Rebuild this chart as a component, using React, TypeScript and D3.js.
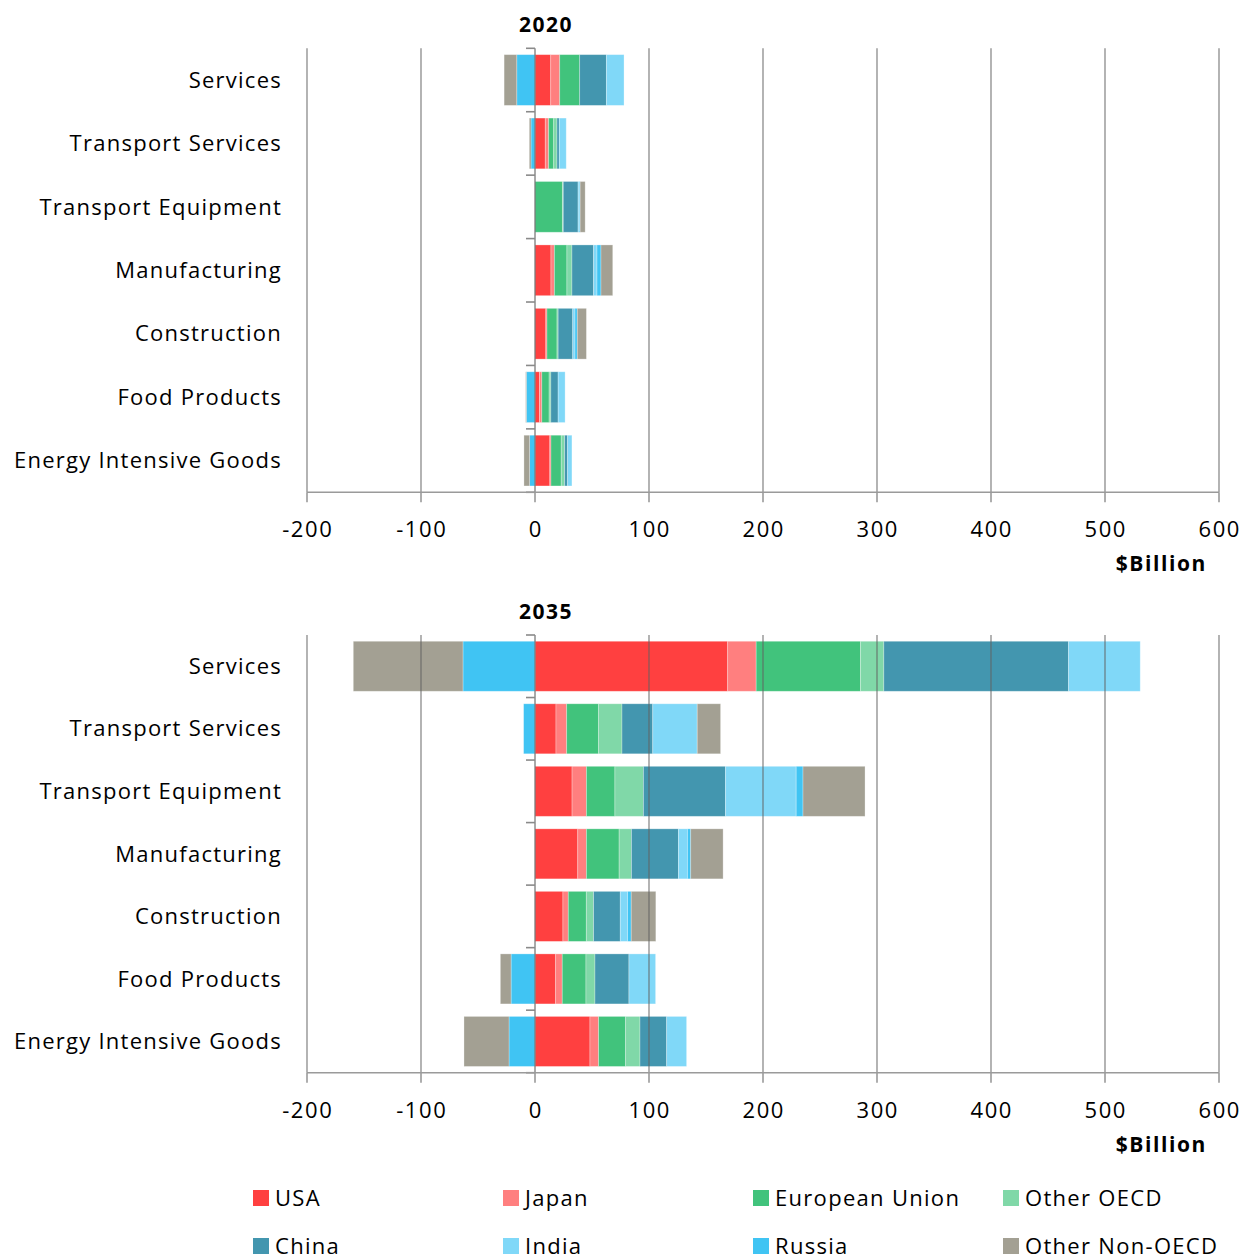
import React from 'react';
import * as d3 from 'd3';

const categories = [
  'Services',
  'Transport Services',
  'Transport Equipment',
  'Manufacturing',
  'Construction',
  'Food Products',
  'Energy Intensive Goods',
];

const seriesNames = ['USA', 'Japan', 'European Union', 'Other OECD', 'China', 'India', 'Russia', 'Other Non-OECD'];
const seriesColors = ['#FF4040', '#FF7F7F', '#41C37C', '#80D8A8', '#4396AF', '#80D8F8', '#40C4F3', '#A3A093'];

// 2020 values ($Billion), category order as above
const usa2020 = [13.8, 9, 0, 14, 9.5, 4, 13];
const japan2020 = [7.9, 3, 0, 3, 1, 2, 1];
const eu2020 = [17.5, 4.4, 24, 11, 8.8, 6.4, 9];
const otherOecd2020 = [0, 2.9, 0.8, 4.4, 1, 1.5, 3];
const china2020 = [23.4, 2, 13, 19, 12.8, 6.4, 2.6];
const india2020 = [15.5, 6.1, 1, 3, 2, 6.1, 3.8];
const russia2020 = [-16, -3.5, 0.8, 3.5, 2, -7.6, -4.7];
const otherNonOecd2020 = [-11.1, -1.5, 4.4, 10.3, 8, -0.6, -5];

// 2035 values ($Billion)
const usa2035 = [169, 18.4, 32.5, 37.5, 24.5, 18.1, 48.2];
const japan2035 = [25, 9.4, 12.6, 7.6, 4.7, 5.8, 7.6];
const eu2035 = [91.5, 28, 25, 28.7, 15.8, 20.8, 23.7];
const otherOecd2035 = [20.5, 20.5, 25, 10.8, 6.4, 7.9, 12.6];
const china2035 = [162, 27, 72, 41.2, 23.4, 29.8, 23.4];
const india2035 = [62.9, 39, 62, 7.9, 6.4, 23.4, 17.5];
const russia2035 = [-63.2, -10, 6, 2.9, 3.2, -21, -22.8];
const otherNonOecd2035 = [-96.2, 20.5, 54.4, 28.4, 21.6, -9.4, -39.5];

const xTicks = [-200, -100, 0, 100, 200, 300, 400, 500, 600];

const series2020 = [usa2020, japan2020, eu2020, otherOecd2020, china2020, india2020, russia2020, otherNonOecd2020];
const series2035 = [usa2035, japan2035, eu2035, otherOecd2035, china2035, india2035, russia2035, otherNonOecd2035];

const FONT = '"Open Sans", "Noto Sans", sans-serif';

function buildRows(series: number[][]) {
  return categories.map((c, i) => {
    const row: Record<string, any> = { category: c };
    seriesNames.forEach((s, j) => {
      row[s] = series[j][i];
    });
    return row;
  });
}

const x = d3.scaleLinear().domain([-200, 600]).range([307, 1219]);

function Panel({ title, series, top, bottom }: { title: string; series: number[][]; top: number; bottom: number }) {
  const rows = buildRows(series);
  const stacked = d3.stack<any>().keys(seriesNames).offset(d3.stackOffsetDiverging)(rows);
  const y = d3.scaleBand<string>().domain(categories).range([top, bottom]).paddingInner(0.2).paddingOuter(0.1);
  const step = (bottom - top) / categories.length;
  const x0 = x(0);
  return (
    <g>
      <text x={546} y={top - 16} textAnchor="middle" fontFamily={FONT} fontWeight="bold" fontSize={21} letterSpacing={1.5} fill="#000">
        {title}
      </text>
      {stacked.map((layer, si) => (
        <g key={layer.key} fill={seriesColors[si]}>
          {layer.map((d, ci) => {
            const a = x(d[0]);
            const b = x(d[1]);
            const w = Math.abs(b - a);
            if (w < 0.01) return null;
            return (
              <rect
                key={ci}
                x={Math.min(a, b)}
                y={y(categories[ci])}
                width={w}
                height={y.bandwidth()}
                stroke="#ffffff"
                strokeOpacity={0.35}
                strokeWidth={0.8}
              />
            );
          })}
        </g>
      ))}
      {/* gridlines over bars */}
      {xTicks.filter((t) => t !== 0).map((t) => (
        <line key={t} x1={x(t)} x2={x(t)} y1={top} y2={bottom} stroke="#606060" strokeOpacity={0.6} strokeWidth={1.6} />
      ))}
      {/* y axis at zero */}
      <line x1={x0} x2={x0} y1={top} y2={bottom} stroke="#707070" strokeOpacity={0.75} strokeWidth={1.6} />
      {d3.range(categories.length + 1).map((i) => (
        <line key={i} x1={x0 - 9} x2={x0} y1={top + i * step} y2={top + i * step} stroke="#8a8a8a" strokeWidth={1.6} />
      ))}
      {/* x axis */}
      <line x1={x(-200)} x2={x(600)} y1={bottom} y2={bottom} stroke="#9a9a9a" strokeWidth={1.6} />
      {xTicks.map((t) => (
        <g key={t}>
          <line x1={x(t)} x2={x(t)} y1={bottom} y2={bottom + 10} stroke="#9a9a9a" strokeWidth={1.6} />
          <text x={x(t) + 0.8} y={bottom + 45} textAnchor="middle" fontFamily={FONT} fontSize={22} letterSpacing={1.6} fill="#000">
            {t}
          </text>
        </g>
      ))}
      <text x={1207} y={bottom + 79} textAnchor="end" fontFamily={FONT} fontWeight="bold" fontSize={21} letterSpacing={1.6} fill="#000">
        $Billion
      </text>
      {categories.map((c) => (
        <text
          key={c}
          x={282}
          y={(y(c) as number) + y.bandwidth() / 2}
          dy="0.35em"
          textAnchor="end"
          fontFamily={FONT}
          fontSize={22}
          letterSpacing={1.25}
          fill="#000"
        >
          {c}
        </text>
      ))}
    </g>
  );
}

export default function App() {
  const legendCols = [253, 503, 753, 1003];
  const legendRows = [1198, 1246];
  return (
    <svg width={1246} height={1259} style={{ position: 'absolute', left: 0, top: 0, background: '#fff' }}>
      <rect width={1246} height={1259} fill="#fff" />
      <Panel title="2020" series={series2020} top={48.3} bottom={492.3} />
      <Panel title="2035" series={series2035} top={635} bottom={1072.7} />
      {seriesNames.map((s, i) => {
        const cx = legendCols[i % 4];
        const cy = legendRows[Math.floor(i / 4)];
        return (
          <g key={s}>
            <rect x={cx} y={cy - 8} width={16} height={16} fill={seriesColors[i]} />
            <text x={cx + 22} y={cy} dy="0.35em" fontFamily={FONT} fontSize={22} letterSpacing={1.3} fill="#000">
              {s}
            </text>
          </g>
        );
      })}
    </svg>
  );
}
